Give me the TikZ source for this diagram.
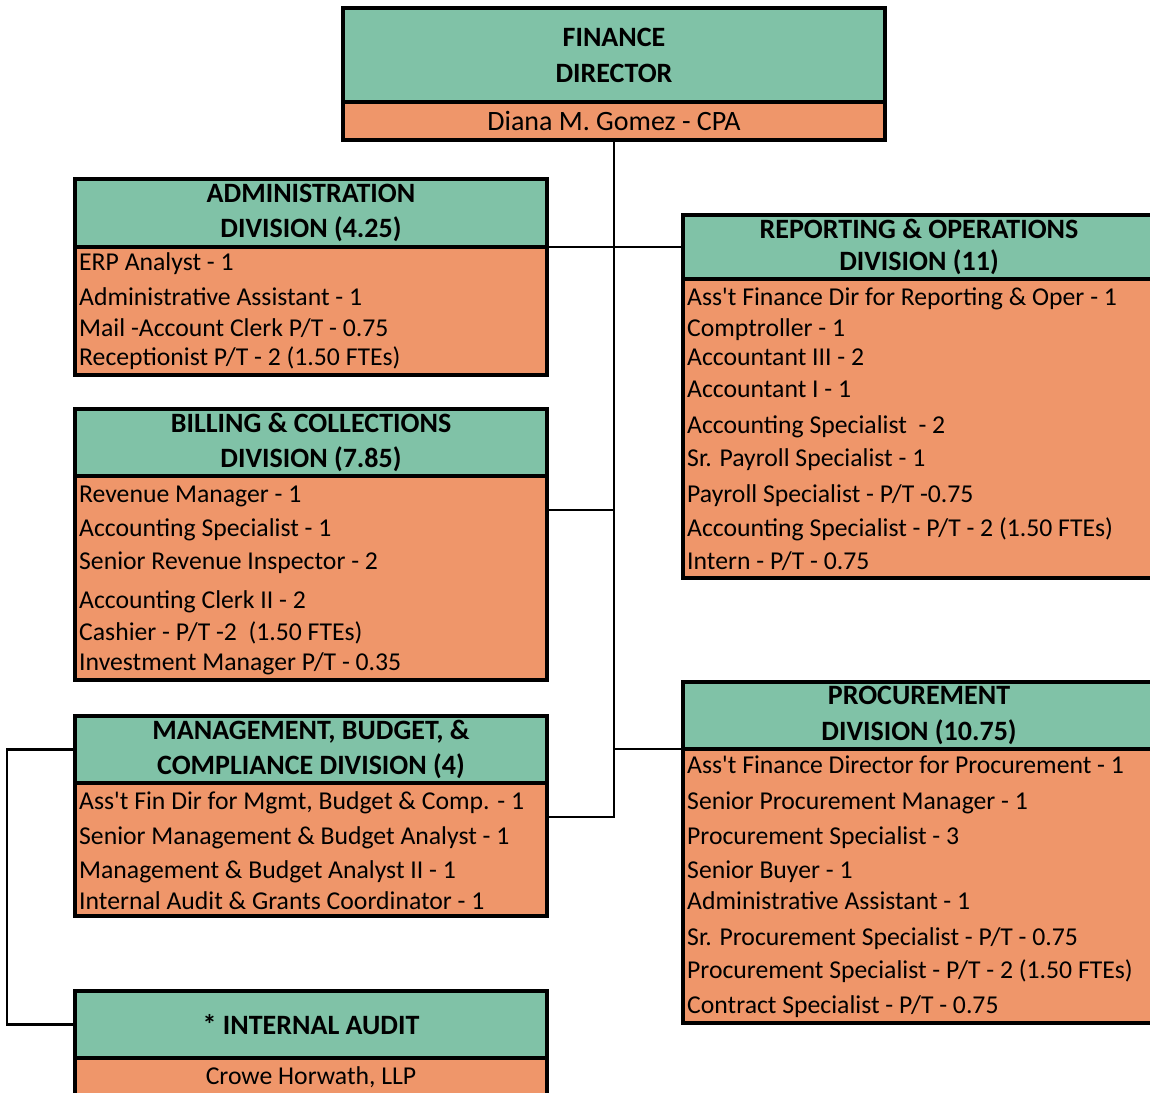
\documentclass[tikz,border=0pt]{standalone}
\usepackage{fontspec}
\setmainfont{Carlito}
\usetikzlibrary{positioning}
\definecolor{headgreen}{RGB}{128,194,167}
\definecolor{bodyorange}{RGB}{239,150,106}
\newcommand{\apos}{\textquotesingle}
\tikzset{
  box/.style={draw, line width=4pt, outer sep=0pt, inner sep=0pt, anchor=north west,
    minimum width=472pt},
  head/.style={box, fill=headgreen, align=center,
    font=\bfseries\fontsize{28}{35}\selectfont},
  body/.style={box, fill=bodyorange, font=\fontsize{25.7}{30}\selectfont},
  item/.style={anchor=west, inner sep=0pt, text height=18pt, text depth=2pt,
    font=\fontsize{25.7}{30}\selectfont},
  link/.style={line width=2.5pt},
}

\begin{document}
\begin{tikzpicture}[x=1pt, y=-1pt]
  \useasboundingbox (0, 0) rectangle (1150, 1092);
  \clip (0, 0) rectangle (1150, 1092);

  % director
  \node [body, minimum width=542pt, minimum height=38pt,
    font=\fontsize{28}{32}\selectfont] (fin-body) at (343, 102)
    {Diana M. Gomez - CPA};
  \node [head, minimum width=542pt, minimum height=94pt,
    font=\bfseries\fontsize{28}{36}\selectfont] (fin-head) at (343, 8)
    {FINANCE\\DIRECTOR};

  % left column
  \node [body, minimum height=128pt] (adm-body) at (75, 247) {};
  \node [head, minimum height=68pt] (adm-head) at (75, 179)
    {ADMINISTRATION\\DIVISION (4.25)};
  \node [body, minimum height=204pt] (bil-body) at (75, 476) {};
  \node [head, minimum height=67pt] (bil-head) at (75, 409)
    {BILLING \& COLLECTIONS\\DIVISION (7.85)};
  \node [body, minimum height=133pt] (mgm-body) at (75, 783) {};
  \node [head, minimum height=67pt] (mgm-head) at (75, 716)
    {MANAGEMENT, BUDGET, \&\\COMPLIANCE DIVISION (4)};
  \node [body, minimum height=38pt] (aud-body) at (75, 1058)
    {Crowe Horwath, LLP};
  \node [head, minimum height=67pt] (aud-head) at (75, 991)
    {* INTERNAL AUDIT};

  % right column
  \node [body, minimum height=299pt] (rep-body) at (683, 279) {};
  \node [head, minimum height=64pt,
    font=\bfseries\fontsize{28}{32}\selectfont] (rep-head) at (683, 215)
    {REPORTING \& OPERATIONS\\DIVISION (11)};
  \node [body, minimum height=274pt] (pro-body) at (683, 749) {};
  \node [head, minimum height=67pt,
    font=\bfseries\fontsize{28}{36}\selectfont] (pro-head) at (683, 682)
    {PROCUREMENT\\DIVISION (10.75)};

  % staff lists
  \foreach \y/\txt [count=\i] in {262/{ERP Analyst - 1},
      297/{Administrative Assistant - 1},
      328/{Mail -Account Clerk P/T - 0.75},
      357/{Receptionist P/T - 2 (1.50 FTEs)}}
    \node [item] (adm-\i) at (79, \y) {\txt};
  \foreach \y/\txt [count=\i] in {494/{Revenue Manager - 1},
      528/{Accounting Specialist - 1},
      561/{Senior Revenue Inspector - 2},
      600/{Accounting Clerk II - 2},
      632/{Cashier - P/T -2\ \ (1.50 FTEs)},
      662/{Investment Manager P/T - 0.35}}
    \node [item] (bil-\i) at (79, \y) {\txt};
  \foreach \y/\txt [count=\i] in {801/{Ass\apos t Fin Dir for Mgmt, Budget \& Comp. - 1},
      836/{Senior Management \& Budget Analyst - 1},
      870/{Management \& Budget Analyst II - 1},
      901/{Internal Audit \& Grants Coordinator - 1}}
    \node [item] (mgm-\i) at (79, \y) {\txt};
  \foreach \y/\txt [count=\i] in {297/{Ass\apos t Finance Dir for Reporting \& Oper - 1},
      328/{Comptroller - 1},
      357/{Accountant III - 2},
      389/{Accountant I - 1},
      425/{Accounting Specialist\ \ - 2},
      458/{Sr. Payroll Specialist - 1},
      494/{Payroll Specialist - P/T -0.75},
      528/{Accounting Specialist - P/T - 2 (1.50 FTEs)},
      561/{Intern - P/T - 0.75}}
    \node [item] (rep-\i) at (687, \y) {\txt};
  \foreach \y/\txt [count=\i] in {765/{Ass\apos t Finance Director for Procurement - 1},
      801/{Senior Procurement Manager - 1},
      836/{Procurement Specialist - 3},
      870/{Senior Buyer - 1},
      901/{Administrative Assistant - 1},
      937/{Sr. Procurement Specialist - P/T - 0.75},
      970/{Procurement Specialist - P/T - 2 (1.50 FTEs)},
      1005/{Contract Specialist - P/T - 0.75}}
    \node [item] (pro-\i) at (687, \y) {\txt};

  % reporting lines
  \coordinate (bil-port) at (547, 510);
  \coordinate (mgm-port) at (547, 817);
  \draw [link] (fin-body.south) |- (mgm-port);
  \draw [link] (adm-head.south east) -- (rep-head.west);
  \draw [link] (bil-port) -- (fin-body.south |- bil-port);
  \draw [link] (fin-body.south |- pro-head.south west) -- (pro-head.south west);
  \draw [link] (mgm-head.west) -- ++(-68, 0) |- (aud-head.west);
\end{tikzpicture}
\end{document}
